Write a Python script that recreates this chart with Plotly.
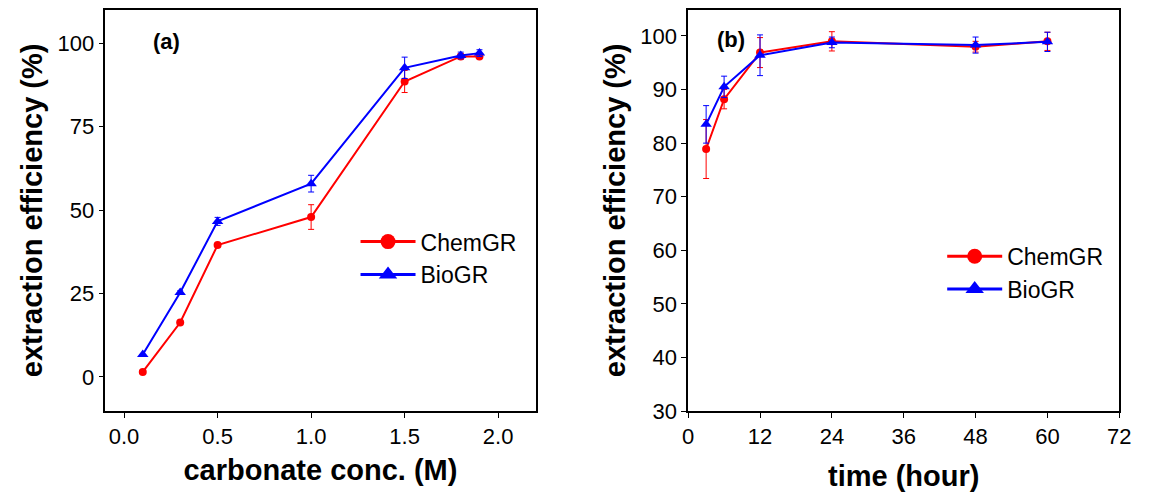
import plotly.graph_objects as go

# Panel (a): extraction efficiency vs carbonate concentration
conc = [0.1, 0.3, 0.5, 1.0, 1.5, 1.8, 1.9]
chem_a = [1.5, 16.3, 39.5, 47.9, 88.5, 96.0, 96.0]
chem_a_err = [0.0, 0.0, 0.0, 3.7, 3.3, 0.8, 0.5]
bio_a = [6.7, 25.3, 46.6, 57.9, 92.6, 96.3, 97.0]
bio_a_err = [0.0, 0.5, 1.2, 2.5, 3.2, 1.0, 1.0]

# Panel (b): extraction efficiency vs time
hours = [3, 6, 12, 24, 48, 60]
chem_b = [78.9, 88.2, 96.9, 99.0, 98.0, 99.0]
chem_b_err = [5.5, 1.8, 2.8, 1.8, 1.0, 1.7]
bio_b = [83.5, 90.5, 96.4, 98.8, 98.3, 98.9]
bio_b_err = [3.5, 2.0, 3.8, 1.0, 1.5, 1.8]

RED = "#ff0000"
BLUE = "#0000ff"
FONT = "Arial, Liberation Sans, sans-serif"

fig = go.Figure()


def add_series(x, y, err, color, symbol, size, xa, ya):
    fig.add_trace(go.Scatter(
        x=x, y=y, mode="lines+markers", showlegend=False,
        line=dict(color=color, width=2),
        marker=dict(color=color, symbol=symbol, size=size),
        error_y=dict(type="data", array=err, visible=True, color=color,
                     thickness=1, width=3),
        xaxis=xa, yaxis=ya,
    ))


def add_legend_entry(name, color, symbol, size, xa, ya, legend):
    # legend-only entry with a larger symbol than the plotted markers
    fig.add_trace(go.Scatter(
        x=[None], y=[None], name=name, mode="lines+markers",
        line=dict(color=color, width=3),
        marker=dict(color=color, symbol=symbol, size=size),
        xaxis=xa, yaxis=ya, legend=legend,
    ))


add_series(conc, chem_a, chem_a_err, RED, "circle", 8, "x", "y")
add_series(conc, bio_a, bio_a_err, BLUE, "triangle-up", 10, "x", "y")
add_series(hours, chem_b, chem_b_err, RED, "circle", 8, "x2", "y2")
add_series(hours, bio_b, bio_b_err, BLUE, "triangle-up", 10, "x2", "y2")

add_legend_entry("ChemGR", RED, "circle", 15, "x", "y", "legend")
add_legend_entry("BioGR", BLUE, "triangle-up", 16, "x", "y", "legend")
add_legend_entry("ChemGR", RED, "circle", 15, "x2", "y2", "legend2")
add_legend_entry("BioGR", BLUE, "triangle-up", 16, "x2", "y2", "legend2")

axis_common = dict(
    showline=True, linecolor="black", linewidth=1.5, mirror=True,
    ticks="outside", ticklen=5, tickwidth=1, tickcolor="black",
    showgrid=False, zeroline=False,
    tickfont=dict(family=FONT, size=22, color="black"),
)
title_font = dict(family=FONT, size=29, color="black", weight="bold")

legend_common = dict(
    font=dict(family=FONT, size=23, color="black"),
    bgcolor="rgba(0,0,0,0)", borderwidth=0,
    itemsizing="trace", itemwidth=55, tracegroupgap=0,
    xanchor="left", yanchor="top",
)
label_font = dict(family=FONT, size=22, color="black", weight="bold")

fig.update_layout(
    width=1151, height=499,
    margin=dict(l=0, r=0, t=0, b=0),
    paper_bgcolor="white", plot_bgcolor="white",
    xaxis=dict(domain=[0.0877, 0.4674], range=[-0.1, 2.2],
               tickvals=[0.0, 0.5, 1.0, 1.5, 2.0], ticktext=["0.0", "0.5", "1.0", "1.5", "2.0"],
               title=dict(text="carbonate conc. (M)", font=title_font, standoff=12),
               anchor="y", **axis_common),
    yaxis=dict(domain=[0.1543, 0.98], range=[-10.2, 110],
               tickvals=[0, 25, 50, 75, 100],
               title=dict(text="extraction efficiency (%)", font=title_font, standoff=6),
               anchor="x", **axis_common),
    xaxis2=dict(domain=[0.6021, 0.9826], range=[0, 72],
                tickvals=[0, 12, 24, 36, 48, 60, 72],
                title=dict(text="time (hour)", font=title_font, standoff=18),
                anchor="y2", **axis_common),
    yaxis2=dict(domain=[0.1543, 0.98], range=[30, 104.9],
                tickvals=[30, 40, 50, 60, 70, 80, 90, 100],
                title=dict(text="extraction efficiency (%)", font=title_font, standoff=6),
                anchor="x2", **axis_common),
    legend=dict(x=0.3085, y=0.547, **legend_common),
    legend2=dict(x=0.8263, y=0.517, **legend_common),
    showlegend=True,
    annotations=[
        dict(text="(a)", xref="paper", yref="paper", x=0.1416, y=0.914,
             xanchor="center", yanchor="middle",
             showarrow=False, font=label_font),
        dict(text="(b)", xref="paper", yref="paper", x=0.6403, y=0.918,
             xanchor="center", yanchor="middle",
             showarrow=False, font=label_font),
    ],
)

fig.write_html("out.html")
